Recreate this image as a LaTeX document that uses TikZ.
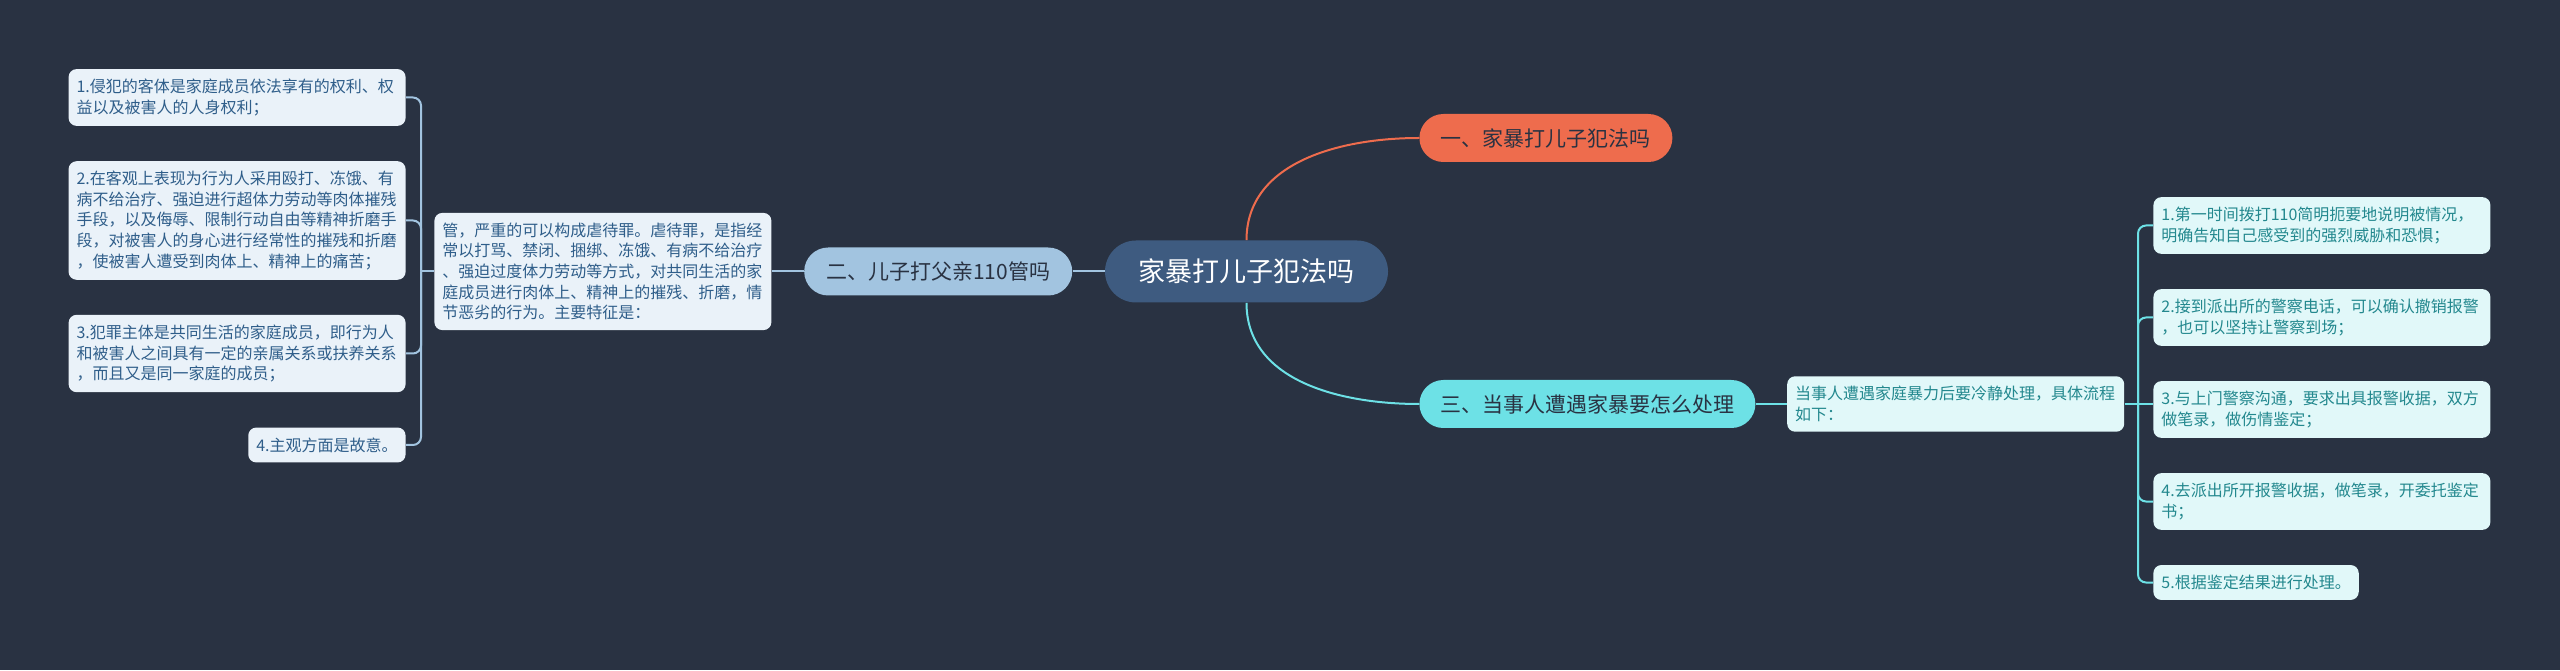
\documentclass[tikz,border=0pt]{standalone}
\usepackage{fontspec}
\setmainfont{Noto Sans CJK SC}
\usepackage{tikz}
\usetikzlibrary{positioning}

\definecolor{bgdark}{HTML}{293242}
\definecolor{rootblue}{HTML}{3E5B80}
\definecolor{orangered}{HTML}{EE6C4D}
\definecolor{skyblue}{HTML}{A2C4E0}
\definecolor{aqua}{HTML}{6DE1E6}
\definecolor{paleblue}{HTML}{EAF2F9}
\definecolor{palecyan}{HTML}{E1F8F9}
\definecolor{inkblue}{HTML}{2F5E8A}
\definecolor{inkteal}{HTML}{23888E}

\begin{document}
\begin{tikzpicture}[
  x=0.5pt, y=0.5pt,
  rootnode/.style={fill=rootblue, text=white, rounded corners=15.5pt, minimum width=141.5pt, minimum height=31pt, font=\fontsize{13.5}{16}\selectfont},
  branchnode/.style={rounded corners=12pt, minimum height=24pt, text=bgdark, font=\fontsize{10.5}{12}\selectfont},
  leafbase/.style={rounded corners=4pt, inner xsep=4pt, inner ysep=5pt, align=left, font=\fontsize{8}{10.3}\selectfont},
  lleaf/.style={leafbase, fill=paleblue, text=inkblue},
  rleaf/.style={leafbase, fill=palecyan, text=inkteal},
  fullw/.style={text width=160.5pt},
  leftline/.style={draw=skyblue, line width=1pt, rounded corners=4pt},
  rightline/.style={draw=aqua, line width=1pt, rounded corners=4pt},
]
\useasboundingbox (0,0) rectangle (2560,670);
\fill[bgdark] (0,0) rectangle (2560,670);

% centre and main branches
\node[rootnode] (root) at (1246.5,398.5) {家暴打儿子犯法吗};
\node[branchnode, fill=orangered, minimum width=126.5pt, anchor=west] (b1) at (1419,532) {一、家暴打儿子犯法吗};
\node[branchnode, fill=skyblue, minimum width=134pt, left=16pt of root] (b2) {二、儿子打父亲110管吗};
\node[branchnode, fill=aqua, minimum width=168pt, anchor=west] (b3) at (1419,266) {三、当事人遭遇家暴要怎么处理};

% left side
\node[lleaf, fullw, left=16pt of b2] (ldesc) {管，严重的可以构成虐待罪。虐待罪，是指经\\常以打骂、禁闭、捆绑、冻饿、有病不给治疗\\、强迫过度体力劳动等方式，对共同生活的家\\庭成员进行肉体上、精神上的摧残、折磨，情\\节恶劣的行为。主要特征是：};
\node[lleaf, fullw, anchor=east] (li1) at (406,572.5) {1.侵犯的客体是家庭成员依法享有的权利、权\\益以及被害人的人身权利；};
\node[lleaf, fullw, anchor=east] (li2) at (406,449.5) {2.在客观上表现为行为人采用殴打、冻饿、有\\病不给治疗、强迫进行超体力劳动等肉体摧残\\手段，以及侮辱、限制行动自由等精神折磨手\\段，对被害人的身心进行经常性的摧残和折磨\\，使被害人遭受到肉体上、精神上的痛苦；};
\node[lleaf, fullw, anchor=east] (li3) at (406,316.5) {3.犯罪主体是共同生活的家庭成员，即行为人\\和被害人之间具有一定的亲属关系或扶养关系\\，而且又是同一家庭的成员；};
\node[lleaf, anchor=east] (li4) at (406,225) {4.主观方面是故意。};

% right side
\node[rleaf, fullw, right=15.5pt of b3] (rdesc) {当事人遭遇家庭暴力后要冷静处理，具体流程\\如下：};
\node[rleaf, fullw, anchor=west] (ri1) at (2153,444.5) {1.第一时间拨打110简明扼要地说明被情况，\\明确告知自己感受到的强烈威胁和恐惧；};
\node[rleaf, fullw, anchor=west] (ri2) at (2153,352.5) {2.接到派出所的警察电话，可以确认撤销报警\\，也可以坚持让警察到场；};
\node[rleaf, fullw, anchor=west] (ri3) at (2153,260.5) {3.与上门警察沟通，要求出具报警收据，双方\\做笔录，做伤情鉴定；};
\node[rleaf, fullw, anchor=west] (ri4) at (2153,168.5) {4.去派出所开报警收据，做笔录，开委托鉴定\\书；};
\node[rleaf, anchor=west] (ri5) at (2153,87.5) {5.根据鉴定结果进行处理。};

% connectors
\draw[orangered, line width=1pt] (root.north) to[out=90, in=180] (b1.west);
\draw[aqua, line width=1pt] (root.south) to[out=-90, in=180] (b3.west);
\draw[leftline] (b2.east) -- (root.west);
\draw[leftline] (ldesc.east) -- (b2.west);
\coordinate (lbus) at (421,398.5);
\draw[leftline] (lbus) -- (ldesc.west);
\foreach \n in {li1,li2,li3,li4}
  \draw[leftline] (\n.east) -| (lbus);
\draw[rightline] (b3.east) -- (rdesc.west);
\coordinate (rbus) at (2138,266);
\draw[rightline] (rdesc.east) -- (rbus);
\draw[rightline] (rbus) -- (rbus -| ri3.west);
\foreach \n in {ri1,ri2,ri4,ri5}
  \draw[rightline] (rbus) |- (\n.west);
\end{tikzpicture}
\end{document}
